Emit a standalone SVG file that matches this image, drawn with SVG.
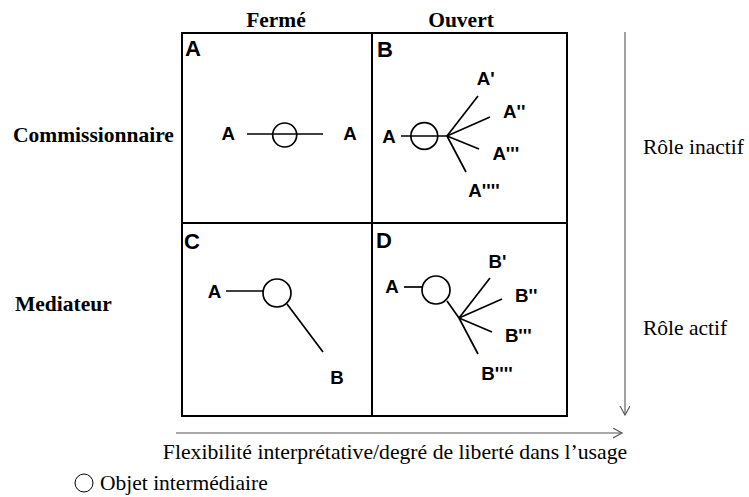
<svg xmlns="http://www.w3.org/2000/svg" width="749" height="497" viewBox="0 0 749 497">
<defs>
<style>
.box{fill:none;stroke:#000;stroke-width:2}
.ln{stroke:#000;stroke-width:1.7;fill:none}
.obj{fill:#fff;stroke:#000;stroke-width:1.7}
.ax{stroke:#555;stroke-width:1.1;fill:none}
.q{font-family:"Liberation Sans",Arial,sans-serif;font-weight:bold;font-size:22px}
.lb{font-family:"Liberation Sans",Arial,sans-serif;font-weight:bold;font-size:18.7px;text-anchor:middle}
.hd{font-family:"Liberation Serif","Times New Roman",serif;font-weight:bold;font-size:21.5px}
.tx{font-family:"Liberation Serif","Times New Roman",serif;font-size:21.5px}
</style>
<marker id="ah" markerWidth="12" markerHeight="12" refX="9" refY="5" orient="auto" markerUnits="userSpaceOnUse">
<path d="M0,0 L9,5 L0,10" fill="none" stroke="#555" stroke-width="1.1"/>
</marker>
</defs>
<rect width="749" height="497" fill="#fff"/>
<g id="grid">
<rect class="box" x="182" y="33" width="385" height="383"/>
<line class="box" x1="372" y1="33" x2="372" y2="416"/>
<line class="box" x1="182" y1="223" x2="567" y2="223"/>
</g>
<g id="headers">
<text class="hd" x="276" y="27" text-anchor="middle">Fermé</text>
<text class="hd" x="461" y="27" text-anchor="middle">Ouvert</text>
<text class="hd" x="13" y="142">Commissionnaire</text>
<text class="hd" x="15" y="311">Mediateur</text>
<text class="tx" x="643" y="154">Rôle inactif</text>
<text class="tx" x="643" y="335">Rôle actif</text>
<text class="tx" x="395" y="459" text-anchor="middle" style="font-size:21.7px">Flexibilité interprétative/degré de liberté dans l’usage</text>
<text class="tx" x="100" y="490">Objet intermédiaire</text>
</g>
<g id="axes">
<line class="ax" x1="625" y1="32" x2="625" y2="415" marker-end="url(#ah)"/>
<line class="ax" x1="176" y1="433" x2="622" y2="433" marker-end="url(#ah)"/>
</g>
<g id="legend">
<circle cx="84" cy="483" r="9" fill="none" stroke="#000" stroke-width="1"/>
</g>
<g id="quadA">
<text class="q" x="185" y="56">A</text>
<line class="ln" x1="247" y1="134" x2="323" y2="134"/>
<circle cx="284.7" cy="135" r="12" fill="none" stroke="#000" stroke-width="1.7"/>
<text class="lb" x="228.3" y="140">A</text>
<text class="lb" x="350" y="140">A</text>
</g>
<g id="quadB">
<text class="q" x="377" y="57">B</text>
<line class="ln" x1="401" y1="136" x2="447" y2="136"/>
<circle cx="424.3" cy="136" r="13.4" fill="none" stroke="#000" stroke-width="1.7"/>
<line class="ln" x1="447" y1="136" x2="478" y2="96"/>
<line class="ln" x1="447" y1="136" x2="490" y2="117"/>
<line class="ln" x1="447" y1="136" x2="479" y2="149"/>
<line class="ln" x1="447" y1="136" x2="466" y2="172"/>
<text class="lb" x="389" y="143">A</text>
<text class="lb" x="485.8" y="85">A'</text>
<text class="lb" x="514.3" y="118">A''</text>
<text class="lb" x="505.8" y="160">A'''</text>
<text class="lb" x="484" y="197">A''''</text>
</g>
<g id="quadC">
<text class="q" x="184" y="249">C</text>
<line class="ln" x1="226" y1="291" x2="263" y2="291"/>
<circle class="obj" cx="277" cy="293" r="14"/>
<line class="ln" x1="287" y1="304" x2="323" y2="352"/>
<text class="lb" x="214.5" y="298">A</text>
<text class="lb" x="337" y="384">B</text>
</g>
<g id="quadD">
<text class="q" x="376" y="248">D</text>
<line class="ln" x1="404" y1="287" x2="422" y2="287"/>
<circle class="obj" cx="436" cy="290" r="14"/>
<line class="ln" x1="447" y1="301" x2="459" y2="318"/>
<line class="ln" x1="459" y1="318" x2="490" y2="278"/>
<line class="ln" x1="459" y1="318" x2="502" y2="299"/>
<line class="ln" x1="459" y1="318" x2="492" y2="332"/>
<line class="ln" x1="459" y1="318" x2="478" y2="354"/>
<text class="lb" x="392" y="292.5">A</text>
<text class="lb" x="497.5" y="268">B'</text>
<text class="lb" x="526.3" y="302">B''</text>
<text class="lb" x="518.3" y="342">B'''</text>
<text class="lb" x="497" y="380">B''''</text>
</g>
</svg>
